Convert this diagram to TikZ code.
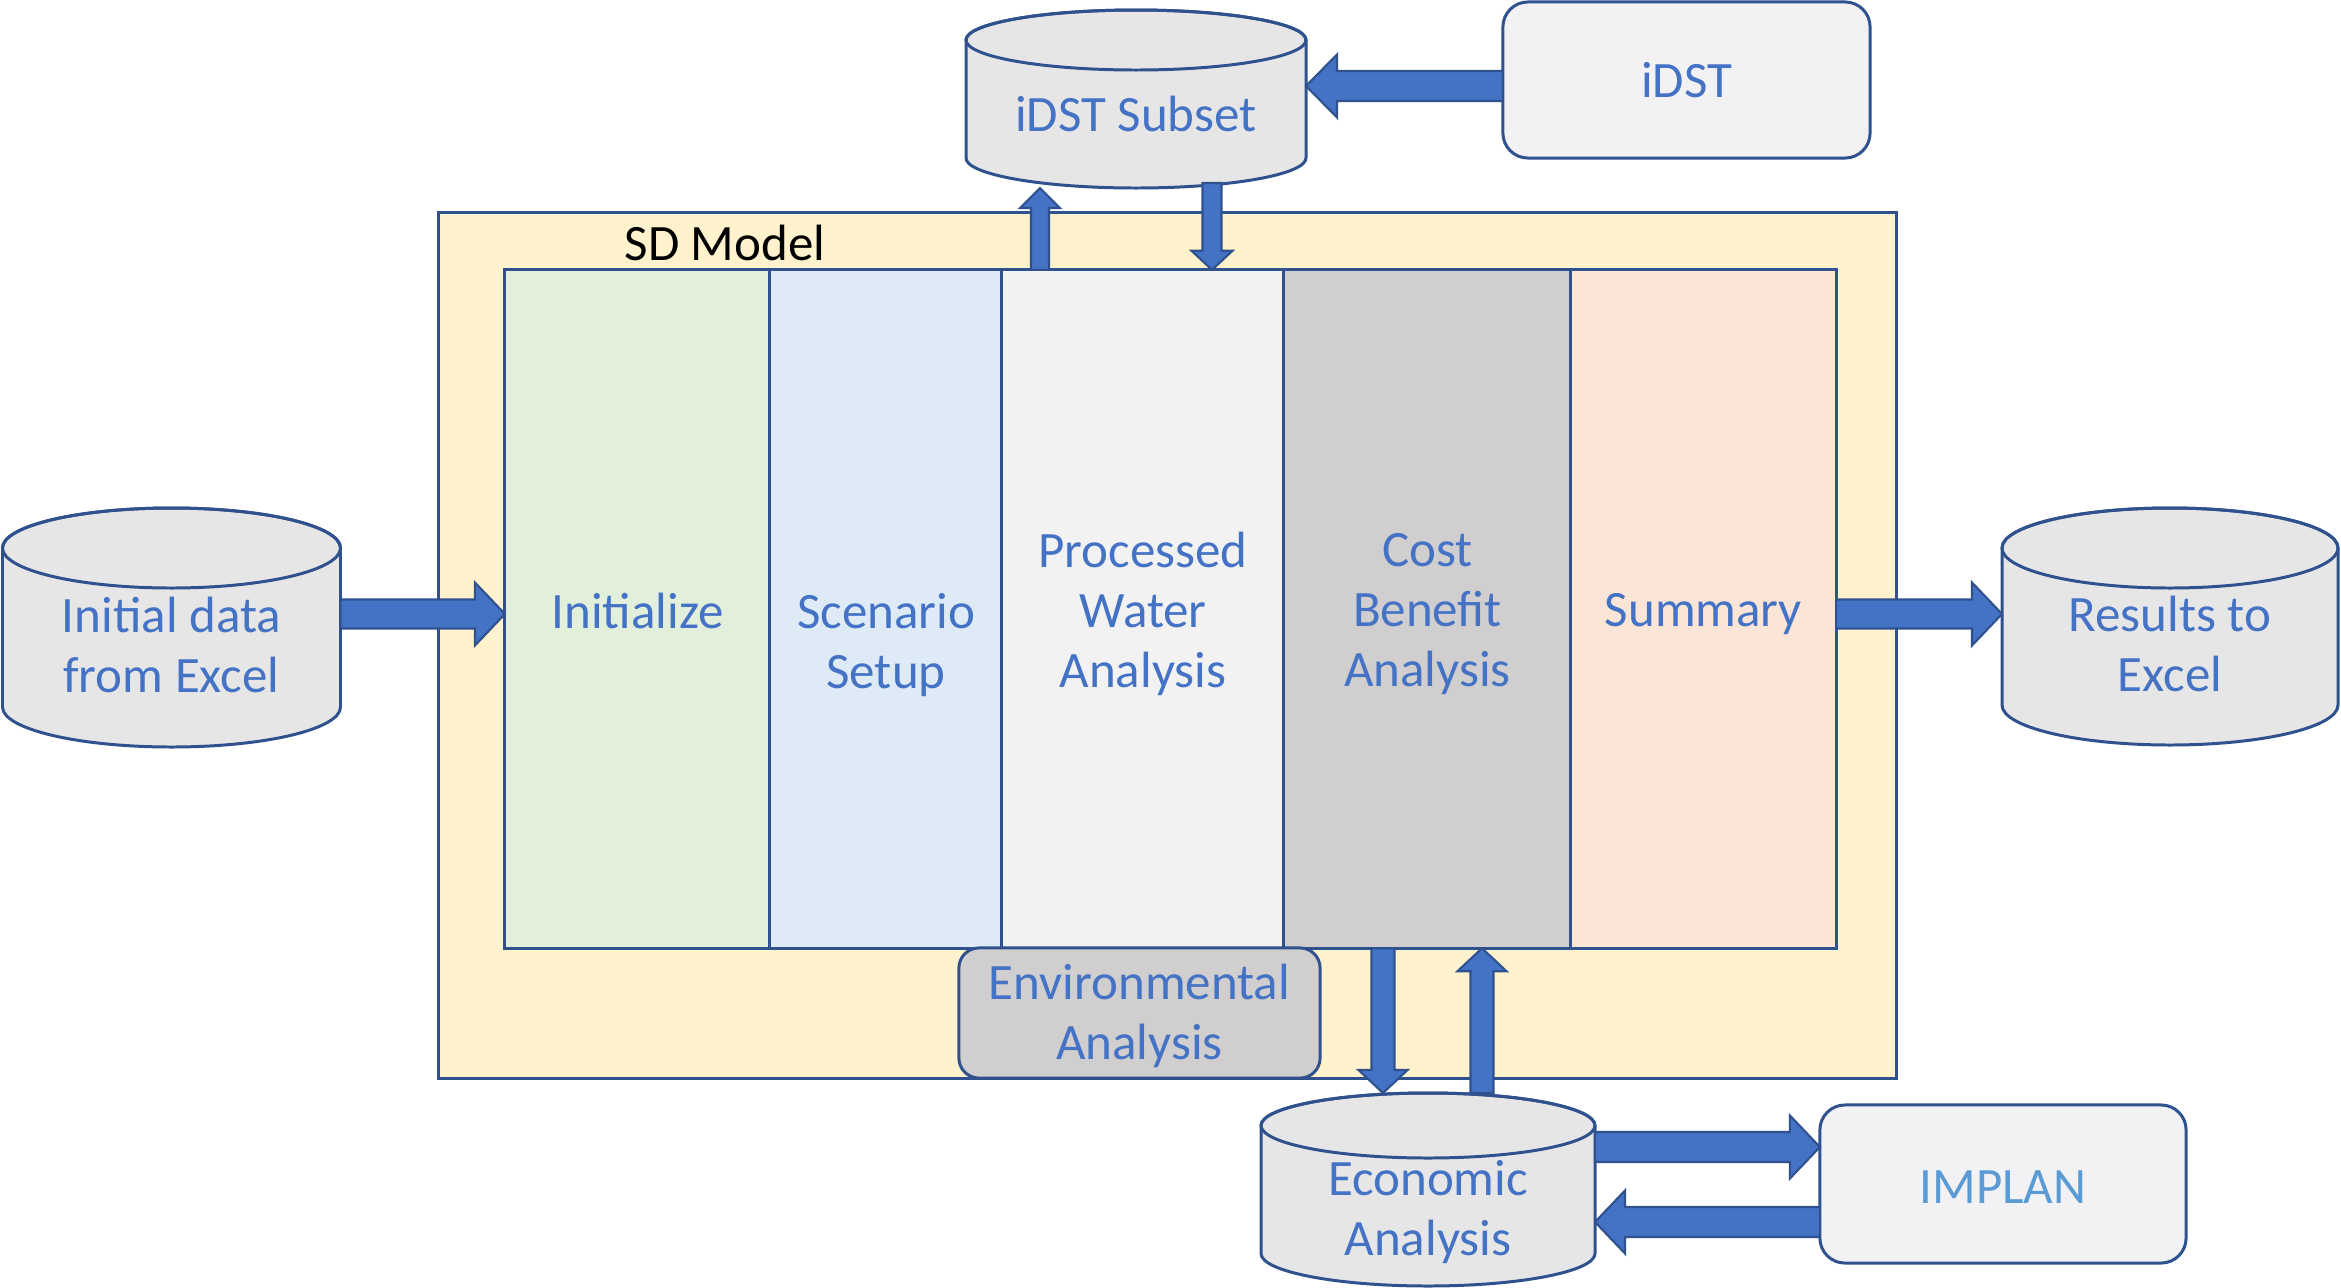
\documentclass[tikz,border=0pt]{standalone}
\usepackage{fontspec}
\setmainfont{Carlito}
\usetikzlibrary{calc,fit}
\definecolor{bord}{HTML}{2F528F}
\definecolor{txt}{HTML}{4472C4}
\definecolor{txtl}{HTML}{5B9BD5}
\definecolor{arrf}{HTML}{4472C4}
\definecolor{sdfill}{HTML}{FFF2CC}
\definecolor{cylf}{HTML}{E7E6E6}
\definecolor{boxf}{HTML}{F2F2F4}
\definecolor{cgreen}{HTML}{E2EFDA}
\definecolor{cblue}{HTML}{DEEBF7}
\definecolor{cwhite}{HTML}{F2F2F2}
\definecolor{cgray}{HTML}{D0CECE}
\definecolor{corange}{HTML}{FBE5D6}
\tikzset{
  lbl/.style={font=\fontsize{14.5}{17.1}\selectfont, text=txt, align=center, inner sep=0pt},
  col/.style={draw=bord, line width=0.85pt, inner sep=0pt, outer sep=0pt, minimum height=6.78cm},
  cylst/.style={draw=bord, fill=cylf, line width=0.85pt},
  rbox/.style={draw=bord, fill=boxf, line width=0.85pt, rounded corners=0.25cm, inner sep=0pt, outer sep=0pt},
  arrst/.style={draw=bord, fill=arrf, line width=0.6pt, line join=miter}
}
% #1 name, #2 cx, #3 top, #4 bottom, #5 rx, #6 ry, #7 text y, #8 text
\newcommand\cyl[8]{%
  \filldraw[cylst] ({#2-#5},{#3+#6}) -- ({#2-#5},{#4-#6}) arc (180:0:#5 and #6) -- ({#2+#5},{#3+#6}) arc (0:-180:#5 and #6) -- cycle;
  \draw[cylst, fill=none] ({#2},{#3+#6}) ellipse (#5 and #6);
  \node[fit={({#2-#5},{#3}) ({#2+#5},{#4})}, inner sep=0pt, outer sep=0pt] (#1) {};
  \node[lbl] (#1-t) at ({#2},{#7}) {#8};
}
\newcommand\barrow[5]{%
  \coordinate (bS) at (#1);
  \coordinate (bE) at (#2);
  \coordinate (bB) at ($(bE)!#5!(bS)$);
  \filldraw[arrst] ($(bS)!#3!90:(bE)$) -- ($(bB)!#3!90:(bE)$) -- ($(bB)!#4!90:(bE)$) -- (bE) -- ($(bB)!#4!-90:(bE)$) -- ($(bB)!#3!-90:(bE)$) -- ($(bS)!#3!-90:(bE)$) -- cycle;
}
\begin{document}
\begin{tikzpicture}[x=0.01cm, y=-0.01cm]
\useasboundingbox[fill=white] (0,0) rectangle (2341,1287);

% SD model container
\node[draw=bord, fill=sdfill, line width=0.85pt, minimum width=14.57cm, minimum height=8.65cm, inner sep=0pt] (sd) at (1167.5,645.5) {};
\node[font=\fontsize{14.5}{17.1}\selectfont, anchor=base, inner sep=0pt] (sdlbl) at (725,260) {SD Model};

% columns
\node[col, fill=cgreen, minimum width=2.65cm] (cinit) at (637.5,609) {};
\node[col, fill=cblue, minimum width=2.32cm] (cscen) at (886,609) {};
\node[col, fill=cwhite, minimum width=2.82cm] (cproc) at (1143,609) {};
\node[col, fill=cgray, minimum width=2.87cm] (ccost) at (1427.5,609) {};
\node[col, fill=corange, minimum width=2.65cm] (csum) at (1703.5,609) {};
\node[lbl] (cinit-t) at (637.5,611) {Initialize};
\node[lbl] (cscen-t) at (886,645) {Scenario\\Setup};
\node[lbl] (cproc-t) at (1143,614) {Processed\\Water\\Analysis};
\node[lbl] (ccost-t) at (1427.5,614) {Cost\\Benefit\\Analysis};
\node[lbl] (csum-t) at (1703.5,614) {Summary};

% environmental analysis
\node[rbox, fill=cgray, rounded corners=0.2cm, minimum width=3.61cm, minimum height=1.30cm] (env) at (1139.5,1013) {};
\node[lbl] (env-t) at (1139.5,1016) {Environmental\\Analysis};

% cylinders
\cyl{sub}{1136}{10}{188}{170}{30}{114}{iDST Subset}
\cyl{ini}{171.5}{508}{747}{169}{40}{645}{Initial data\\from Excel}
\cyl{res}{2170}{508}{745}{168}{40}{644}{Results to\\Excel}
\cyl{econ}{1428}{1093}{1286}{167}{32.5}{1212}{Economic\\Analysis}

% boxes
\node[rbox, minimum width=3.67cm, minimum height=1.56cm] (idst) at (1686.5,80) {};
\node[lbl] (idst-t) at (1686.5,80) {iDST};
\node[rbox, minimum width=3.66cm, minimum height=1.58cm] (impl) at (2003,1184) {};
\node[lbl, text=txtl] (impl-t) at (2003,1187) {IMPLAN};

% helper coordinates
\coordinate (yA) at (0,86);
\coordinate (yS) at (0,183);
\coordinate (xU) at (1040,0);
\coordinate (xD) at (1212,0);
\coordinate (yM) at (0,614);
\coordinate (xCd) at (1383,0);
\coordinate (xCu) at (1482,0);
\coordinate (yI1) at (0,1147);
\coordinate (yI2) at (0,1222);

% arrows
\barrow{idst.west |- yA}{sub.east |- yA}{0.15cm}{0.315cm}{0.31cm}
\barrow{xU |- cproc.north}{xU |- sub.south}{0.09cm}{0.2cm}{0.2cm}
\barrow{xD |- yS}{xD |- cproc.north}{0.095cm}{0.205cm}{0.19cm}
\barrow{ini.east |- yM}{cinit.west |- yM}{0.145cm}{0.315cm}{0.3cm}
\barrow{csum.east |- yM}{res.west |- yM}{0.145cm}{0.315cm}{0.3cm}
\barrow{xCd |- ccost.south}{xCd |- econ.north}{0.115cm}{0.245cm}{0.23cm}
\barrow{xCu |- econ.north}{xCu |- ccost.south}{0.115cm}{0.245cm}{0.23cm}
\barrow{econ.east |- yI1}{impl.west |- yI1}{0.15cm}{0.315cm}{0.3cm}
\barrow{impl.west |- yI2}{econ.east |- yI2}{0.15cm}{0.315cm}{0.3cm}
\end{tikzpicture}
\end{document}
